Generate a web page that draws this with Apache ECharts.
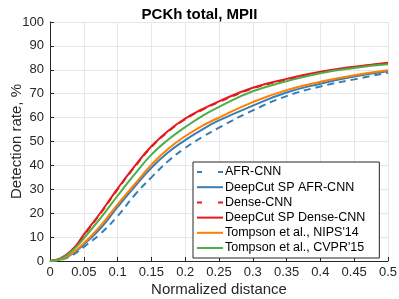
<!DOCTYPE html>
<html><head><meta charset="utf-8">
<script src="https://cdn.jsdelivr.net/npm/echarts@6/dist/echarts.min.js"></script>
<style>html,body{margin:0;padding:0;background:#fff}#c{width:399px;height:299px}</style>
</head><body><div id="c"></div>
<script>
var xs = [0, 0.01, 0.02, 0.03, 0.04, 0.05, 0.075, 0.1, 0.125, 0.15, 0.175, 0.2, 0.225, 0.25, 0.3, 0.35, 0.4, 0.45, 0.5];
var afrCnn      = [0, 0.2, 0.8, 2.0, 3.7, 5.9, 11.5, 18.8, 27.5, 35.0, 41.8, 47.3, 51.8, 55.8, 63.0, 69.0, 73.0, 76.0, 78.8];
var deepcutAfr  = [0, 0.3, 1.0, 2.5, 4.5, 6.9, 13.8, 22.6, 31.0, 39.0, 45.5, 50.6, 55.0, 58.8, 65.0, 70.5, 74.2, 77.2, 79.4];
var denseCnn    = [0, 0.5, 1.7, 3.9, 6.8, 10.7, 20.0, 30.0, 39.3, 47.7, 54.2, 59.3, 63.2, 66.5, 72.2, 75.9, 78.9, 81.0, 82.8];
var deepcutDense= [0, 0.5, 1.8, 4.0, 7.0, 11.0, 20.3, 30.3, 39.6, 48.0, 54.5, 59.6, 63.5, 66.8, 72.5, 76.2, 79.2, 81.3, 83.0];
var tompsonNips = [0, 0.3, 1.1, 2.7, 4.8, 7.4, 14.8, 23.7, 32.0, 40.3, 47.0, 52.2, 56.5, 60.0, 66.5, 71.5, 75.0, 77.7, 79.8];
var tompsonCvpr = [0, 0.4, 1.5, 3.6, 6.2, 9.5, 18.0, 27.3, 36.2, 44.5, 50.8, 56.0, 60.6, 64.5, 71.0, 75.2, 78.6, 80.8, 82.3];
var names = ['AFR-CNN','DeepCut SP AFR-CNN','Dense-CNN','DeepCut SP Dense-CNN',"Tompson et al., NIPS'14","Tompson et al., CVPR'15"];
var values = [afrCnn, deepcutAfr, denseCnn, deepcutDense, tompsonNips, tompsonCvpr];
var colors = ['#377EB8','#377EB8','#E41A1C','#E41A1C','#FF7F00','#4DAF4A'];
var dashes = ['dashed','solid','dashed','solid','solid','solid'];

var SOLID_ICON = 'path://M0,0h26v2h-26z';
var DASH_ICON = 'path://M0,0h5v2h-5zM21,0h5v2h-5z';
function pairs(v){ return xs.map(function(x,i){ return [x, v[i]]; }); }
var FONT = 'Liberation Sans, Arial, sans-serif';
var series = names.map(function(n,i){
  return {name:n, type:'line', data:pairs(values[i]), smooth:0.5, showSymbol:false, symbol:'none',
    lineStyle:{color:colors[i], width:2, type: dashes[i]==='dashed'?[7,5]:'solid'},
    itemStyle:{color:colors[i]}, z: 2+i};
});
var chart = echarts.init(document.getElementById('c'), null, {renderer:'canvas'});
chart.setOption({
  animation:false,
  backgroundColor:'#fff',
  title:{text:'PCKh total, MPII', left:'center', top:2, textStyle:{fontFamily:FONT, fontSize:15, fontWeight:'bold', color:'#000'}},
  grid:{left:50, right:11, top:22, bottom:38, outerBoundsMode:'none', containLabel:false},
  xAxis:{type:'value', min:0, max:0.5, interval:0.05,
    name:'Normalized distance', nameLocation:'middle', nameGap:21, nameMoveOverlap:false,
    nameTextStyle:{fontFamily:FONT, fontSize:15, color:'#262626'},
    axisLine:{show:true, onZero:false, lineStyle:{color:'#262626', width:1}},
    axisTick:{show:true, inside:true, length:4, lineStyle:{color:'#262626'}},
    axisLabel:{fontFamily:FONT, fontSize:13, color:'#262626', margin:5,
      formatter:function(v){ return String(parseFloat(v.toFixed(2))); }},
    splitLine:{show:true, lineStyle:{color:'#e6e6e6', width:1}}},
  yAxis:{type:'value', min:0, max:100, interval:10,
    name:'Detection rate, %', nameLocation:'middle', nameGap:26, nameMoveOverlap:false,
    nameTextStyle:{fontFamily:FONT, fontSize:15, color:'#262626'},
    axisLine:{show:true, lineStyle:{color:'#262626', width:1}},
    axisTick:{show:true, inside:true, length:4, lineStyle:{color:'#262626'}},
    axisLabel:{fontFamily:FONT, fontSize:13, color:'#262626', margin:6},
    splitLine:{show:true, lineStyle:{color:'#e6e6e6', width:1}}},
  legend:{orient:'vertical', left:193, top:162, itemWidth:26, itemHeight:2, itemGap:1.2,
    padding:[3,14,3,4], backgroundColor:'#fff', borderColor:'#262626', borderWidth:1, borderRadius:0,
    textStyle:{fontFamily:FONT, fontSize:12.5, color:'#000', lineHeight:14, padding:[0,0,0,-3]},
    data:names.map(function(n,i){return {name:n, icon: dashes[i]==='dashed'?DASH_ICON:SOLID_ICON, itemStyle:{color:colors[i]}};})},
  series:series
});
</script></body></html>
